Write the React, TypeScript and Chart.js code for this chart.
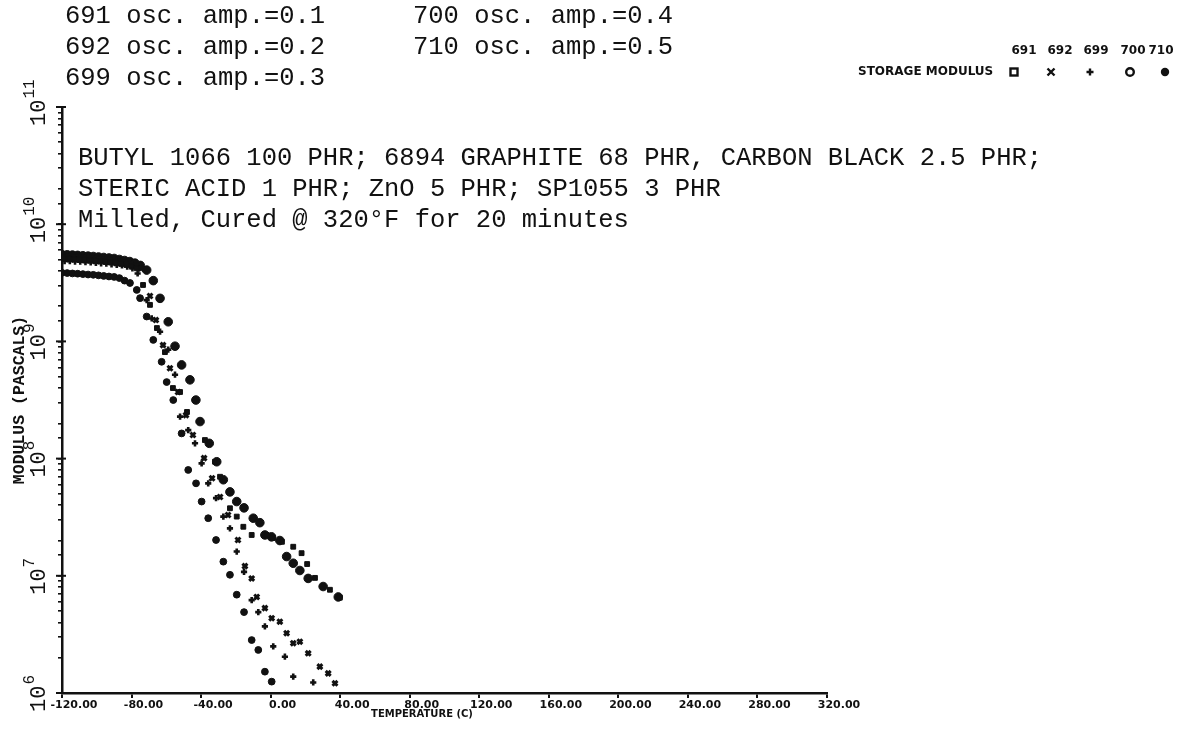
import React, { useEffect, useRef } from 'react';
import { Chart, registerables } from 'chart.js';

Chart.register(...registerables);

// ---------------- data ----------------
const seriesNames = ['691', '692', '699', '700', '710'];
const ampLabels = [
  '691 osc. amp.=0.1',
  '692 osc. amp.=0.2',
  '699 osc. amp.=0.3',
  '700 osc. amp.=0.4',
  '710 osc. amp.=0.5',
];
const recipeLines = [
  'BUTYL 1066 100 PHR; 6894 GRAPHITE 68 PHR, CARBON BLACK 2.5 PHR;',
  'STERIC ACID 1 PHR; ZnO 5 PHR; SP1055 3 PHR',
  'Milled, Cured @ 320°F for 20 minutes',
];
const xTickValues = [-120, -80, -40, 0, 40, 80, 120, 160, 200, 240, 280, 320];
const yExponents = [6, 7, 8, 9, 10, 11];

// 691 (square)
const temp691 = [-119, -116, -113, -110, -107, -104, -101, -98, -95, -92, -89, -86, -83, -80, -77,
  -73.4, -69.4, -65.4, -60.8, -56.2, -52.1, -48.1, -37.8, -32.0, -29.1, -23.4, -19.5, -15.7, -10.9,
  -2.3, 1.3, 6.5, 13.0, 17.8, 21.0, 25.5, 34.1, 39.8];
const mod691 = [5.1e9, 5.08e9, 5.05e9, 5.0e9, 4.98e9, 4.95e9, 4.9e9, 4.85e9, 4.8e9, 4.75e9, 4.7e9, 4.6e9, 4.5e9, 4.4e9, 4.2e9,
  3.03e9, 2.05e9, 1.3e9, 8.1e8, 4.0e8, 3.7e8, 2.5e8, 1.44e8, 9.4e7, 7.0e7, 3.77e7, 3.2e7, 2.62e7, 2.23e7,
  2.23e7, 2.1e7, 1.95e7, 1.77e7, 1.56e7, 1.26e7, 9.6e6, 7.6e6, 6.5e6];

// 692 (cross)
const temp692 = [-119.5, -116.5, -113.5, -110.5, -107.5, -104.5, -101.5, -98.5, -95.5, -92.5, -89.5, -86.5, -83.5, -80.5, -77.5, -74.5,
  -69.4, -66.0, -61.9, -57.9, -53.3, -48.7, -44.7, -38.3, -33.7, -29.1, -24.5, -18.8, -14.8, -10.9, -8.0,
  -3.3, 0.6, 5.3, 9.2, 13.0, 16.8, 21.6, 28.3, 33.1, 37.0];
const mod692 = [5.3e9, 5.28e9, 5.25e9, 5.22e9, 5.18e9, 5.14e9, 5.1e9, 5.05e9, 5.0e9, 4.95e9, 4.9e9, 4.8e9, 4.7e9, 4.6e9, 4.45e9, 4.2e9,
  2.44e9, 1.52e9, 9.3e8, 5.9e8, 3.7e8, 2.35e8, 1.59e8, 1.01e8, 6.8e7, 4.7e7, 3.3e7, 2.02e7, 1.21e7, 9.5e6, 6.6e6,
  5.3e6, 4.35e6, 4.06e6, 3.24e6, 2.66e6, 2.74e6, 2.18e6, 1.68e6, 1.47e6, 1.21e6];

// 699 (plus)
const temp699 = [-118.5, -115.5, -112.5, -109.5, -106.5, -103.5, -100.5, -97.5, -94.5, -91.5, -88.5, -85.5, -82.5, -79.5, -76.5,
  -71.3, -68.4, -63.6, -58.9, -55.0, -52.1, -47.4, -43.5, -39.7, -35.9, -31.4, -27.2, -23.4, -19.5, -15.3,
  -10.9, -7.1, -3.3, 1.5, 8.2, 13.0, 24.5];
const mod699 = [4.85e9, 4.83e9, 4.8e9, 4.78e9, 4.75e9, 4.72e9, 4.68e9, 4.64e9, 4.6e9, 4.55e9, 4.5e9, 4.45e9, 4.35e9, 4.2e9, 3.8e9,
  2.25e9, 1.57e9, 1.21e9, 8.5e8, 5.2e8, 2.28e8, 1.75e8, 1.35e8, 9.1e7, 6.15e7, 4.6e7, 3.2e7, 2.54e7, 1.61e7, 1.08e7,
  6.2e6, 4.9e6, 3.7e6, 2.5e6, 2.04e6, 1.38e6, 1.23e6];

// 700 (circle)
const temp700 = [-120, -117, -114, -111, -108, -105, -102, -99, -96, -93, -90, -87, -84,
  -80.9, -77.0, -75.1, -71.3, -67.5, -62.7, -59.8, -56.0, -51.2, -47.4, -42.9, -39.7, -35.9, -31.4,
  -27.2, -23.4, -19.5, -15.3, -10.9, -7.1, -3.3, 0.6];
const mod700 = [3.85e9, 3.83e9, 3.8e9, 3.78e9, 3.75e9, 3.72e9, 3.7e9, 3.66e9, 3.62e9, 3.58e9, 3.55e9, 3.47e9, 3.3e9,
  3.15e9, 2.75e9, 2.34e9, 1.63e9, 1.03e9, 6.7e8, 4.5e8, 3.16e8, 1.64e8, 8.0e7, 6.15e7, 4.3e7, 3.1e7, 2.02e7,
  1.32e7, 1.02e7, 6.9e6, 4.9e6, 2.83e6, 2.33e6, 1.52e6, 1.25e6];

// 710 (filled circle)
const temp710 = [-120, -117, -114, -111, -108, -105, -102, -99, -96, -93, -90, -87, -84, -81, -78, -75,
  -71.3, -67.5, -63.6, -58.9, -55.0, -51.2, -46.4, -43.0, -40.6, -35.3, -31.0, -27.2, -23.4, -19.5,
  -15.3, -10.0, -6.2, -3.3, 0.5, 5.3, 9.2, 13.0, 16.8, 21.6, 30.2, 38.9];
const mod710 = [5.5e9, 5.48e9, 5.45e9, 5.42e9, 5.38e9, 5.34e9, 5.3e9, 5.25e9, 5.2e9, 5.15e9, 5.1e9, 5.0e9, 4.9e9, 4.8e9, 4.65e9, 4.45e9,
  4.06e9, 3.3e9, 2.33e9, 1.47e9, 9.1e8, 6.3e8, 4.7e8, 3.16e8, 2.07e8, 1.35e8, 9.4e7, 6.6e7, 5.2e7, 4.3e7,
  3.8e7, 3.1e7, 2.84e7, 2.23e7, 2.15e7, 2.0e7, 1.46e7, 1.28e7, 1.11e7, 9.5e6, 8.1e6, 6.6e6];

const temps = [temp691, temp692, temp699, temp700, temp710];
const mods = [mod691, mod692, mod699, mod700, mod710];

// ---------------- styles ----------------
const INK = '#111';
const pointStyles: any[] = ['rect', 'crossRot', 'cross', 'circle', 'circle'];
const pointRadii = [3.4, 3.5, 3.1, 3.4, 4.3];
const pointBorders = [1, 3, 2.6, 1, 1];

const MONO = '"Liberation Mono", "DejaVu Sans Mono", monospace';
const SANS = '"DejaVu Sans", sans-serif';

const textPlugin = {
  id: 'scanTexts',
  afterDraw(chart: any) {
    const ctx: CanvasRenderingContext2D = chart.ctx;
    const yScale = chart.scales.y;
    const area = chart.chartArea;
    ctx.save();
    ctx.fillStyle = INK;
    ctx.strokeStyle = INK;
    ctx.textBaseline = 'alphabetic';
    ctx.textAlign = 'left';

    // amplitude legend (two columns)
    ctx.font = `25.5px ${MONO}`;
    const colX = [65, 413];
    const rowY = [23, 54, 85];
    ampLabels.forEach((t, i) => {
      const col = i < 3 ? 0 : 1;
      const row = i < 3 ? i : i - 3;
      ctx.fillText(t, colX[col], rowY[row]);
    });

    // recipe text
    recipeLines.forEach((t, i) => ctx.fillText(t, 78, 165 + i * 31));

    // top-right symbol legend
    ctx.font = `bold 12px ${SANS}`;
    ctx.textAlign = 'center';
    const numX = [1024, 1060, 1096, 1133, 1161];
    seriesNames.forEach((n, i) => ctx.fillText(n, numX[i], 54));
    ctx.textAlign = 'left';
    ctx.fillText('STORAGE MODULUS', 858, 75);
    const symX = [1014, 1051, 1090, 1130, 1165];
    const sy = 72;
    ctx.lineWidth = 2.4;
    // square
    ctx.strokeRect(symX[0] - 3.5, sy - 3.5, 7, 7);
    // x
    ctx.beginPath();
    ctx.moveTo(symX[1] - 3.5, sy - 3.5); ctx.lineTo(symX[1] + 3.5, sy + 3.5);
    ctx.moveTo(symX[1] + 3.5, sy - 3.5); ctx.lineTo(symX[1] - 3.5, sy + 3.5);
    ctx.stroke();
    // +
    ctx.beginPath();
    ctx.moveTo(symX[2] - 3.5, sy); ctx.lineTo(symX[2] + 3.5, sy);
    ctx.moveTo(symX[2], sy - 3.5); ctx.lineTo(symX[2], sy + 3.5);
    ctx.stroke();
    // open circle
    ctx.beginPath(); ctx.arc(symX[3], sy, 3.8, 0, Math.PI * 2); ctx.stroke();
    // filled circle
    ctx.beginPath(); ctx.arc(symX[4], sy, 4.2, 0, Math.PI * 2); ctx.fill();

    // y tick labels 10^n (rotated)
    yExponents.forEach((e) => {
      const py = yScale.getPixelForValue(Math.pow(10, e));
      ctx.save();
      ctx.translate(45, py + 19);
      ctx.rotate(-Math.PI / 2);
      ctx.font = `22px ${MONO}`;
      ctx.fillText('10', 0, 0);
      const w = ctx.measureText('10').width;
      ctx.font = `16px ${MONO}`;
      ctx.fillText(String(e), w + 1, -11);
      ctx.restore();
      // major tick cross
      ctx.lineWidth = 2;
      ctx.beginPath();
      ctx.moveTo(area.left - 6, py);
      ctx.lineTo(area.left + 4, py);
      ctx.stroke();
    });

    // y axis title
    ctx.save();
    ctx.translate(24, (area.top + area.bottom) / 2);
    ctx.rotate(-Math.PI / 2);
    ctx.textAlign = 'center';
    ctx.font = `bold 16.5px ${MONO}`;
    ctx.fillText('MODULUS (PASCALS)', 0, 0);
    ctx.restore();

    // x axis title
    ctx.textAlign = 'center';
    ctx.font = `bold 10px ${SANS}`;
    ctx.fillText('TEMPERATURE (C)', 422, 717);

    ctx.restore();
  },
};

export default function App() {
  const ref = useRef<HTMLCanvasElement | null>(null);

  useEffect(() => {
    if (!ref.current) return;
    const datasets = seriesNames.map((name, i) => ({
      label: name,
      data: temps[i].map((t, k) => ({ x: t, y: mods[i][k] })),
      pointStyle: pointStyles[i],
      pointRadius: pointRadii[i],
      pointBorderWidth: pointBorders[i],
      pointBackgroundColor: INK,
      pointBorderColor: INK,
      showLine: false,
    }));

    const chart = new Chart(ref.current, {
      type: 'scatter',
      data: { datasets },
      options: {
        animation: false,
        responsive: false,
        devicePixelRatio: 1,
        layout: { padding: { left: 0, top: 107, right: 352, bottom: 0 } },
        plugins: {
          legend: { display: false },
          tooltip: { enabled: false },
          title: { display: false },
        },
        scales: {
          x: {
            type: 'linear',
            min: -120,
            max: 320,
            afterBuildTicks: (scale: any) => {
              scale.ticks = xTickValues.map((v) => ({ value: v }));
            },
            ticks: {
              autoSkip: false,
              maxRotation: 0,
              minRotation: 0,
              labelOffset: 12,
              padding: 1,
              color: INK,
              font: { family: 'DejaVu Sans', weight: 'bold', size: 11 },
              callback: (v: any) => Number(v).toFixed(2),
            },
            grid: { drawOnChartArea: false, drawTicks: true, tickLength: 5, color: INK, lineWidth: 2 },
            border: { color: INK, width: 2.5 },
            afterFit: (s: any) => { s.height = 38; },
          },
          y: {
            type: 'logarithmic',
            min: 1e6,
            max: 1e11,
            ticks: { display: false, autoSkip: false },
            grid: { drawOnChartArea: false, drawTicks: true, tickLength: 4, color: INK, lineWidth: 1.6 },
            border: { color: INK, width: 2.5 },
            afterFit: (s: any) => { s.width = 62; },
          },
        },
      } as any,
      plugins: [textPlugin],
    });
    return () => chart.destroy();
  }, []);

  return (
    <div style={{ position: 'absolute', left: 0, top: 0, width: 1179, height: 731, background: '#fff' }}>
      <canvas ref={ref} width={1179} height={731} style={{ display: 'block', width: 1179, height: 731 }} />
    </div>
  );
}
